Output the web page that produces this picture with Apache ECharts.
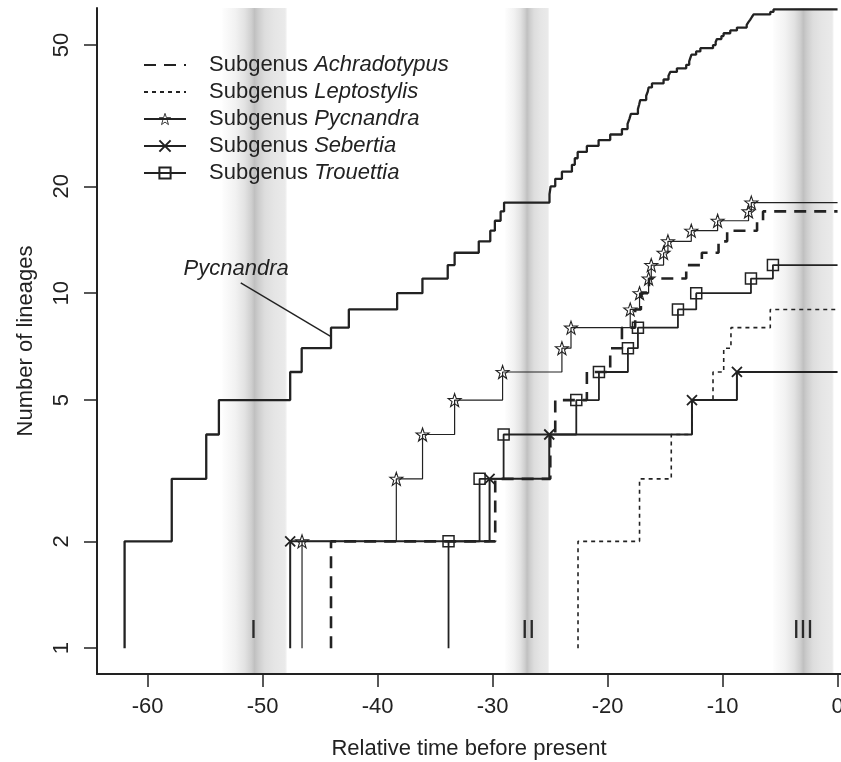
<!DOCTYPE html>
<html>
<head>
<meta charset="utf-8">
<script src="https://cdn.jsdelivr.net/npm/echarts@6/dist/echarts.min.js"></script>
<style>
html, body { margin: 0; padding: 0; background: #fff; }
#main { width: 841px; height: 762px; }
</style>
</head>
<body>
<div id="main"></div>
<script>
'use strict';
// ticks
var xTicks = [-60, -50, -40, -30, -20, -10, 0];
var yTicks = [1, 2, 5, 10, 20, 50];

// genus Pycnandra (branching times, lineages after each event)
var genusTimes = [-62.0, -57.9, -54.9, -53.8, -47.6, -46.6, -44.05, -42.5, -38.3, -36.1,
  -33.9, -33.3, -31.2, -30.2, -29.8, -29.3, -29.0, -25.05, -24.95, -24.55,
  -23.97, -23.1, -22.85, -22.6, -21.8, -20.78, -19.77, -18.75, -18.26, -18.1,
  -17.97, -17.36, -17.25, -17.16, -16.64, -16.5, -16.43, -16.14, -15.13, -14.7,
  -14.55, -13.97, -13.16, -12.9, -12.8, -12.7, -12.3, -11.93, -10.83, -10.6,
  -10.49, -10.1, -9.91, -9.33, -8.75, -7.9, -7.75, -7.59, -7.45, -7.3,
  -5.85, -5.57];
var genusCounts = [2, 3, 4, 5, 6, 7, 8, 9, 10, 11,
  12, 13, 14, 15, 16, 17, 18, 19, 20, 21,
  22, 23, 24, 25, 26, 27, 28, 29, 30, 31,
  32, 33, 34, 35, 36, 37, 38, 39, 40, 41,
  42, 43, 44, 45, 46, 47, 48, 49, 50, 51,
  52, 53, 54, 55, 56, 57, 58, 59, 60, 61,
  62, 63];

// subgenera
var achraTimes = [-44.05, -29.77, -24.98, -24.55, -21.8, -19.77, -18.75, -17.6, -17.1, -16.4, -13.16, -11.8, -10.35, -9.6, -7.0, -6.48];
var achraCounts = [2, 3, 4, 5, 6, 7, 8, 9, 10, 11, 12, 13, 14, 15, 16, 17];
var leptoTimes = [-22.57, -17.22, -14.46, -12.66, -10.83, -9.9, -9.27, -5.85];
var leptoCounts = [2, 3, 4, 5, 6, 7, 8, 9];
var pycnTimes = [-46.57, -38.37, -36.09, -33.3, -29.13, -23.97, -23.18, -18.03, -17.22, -16.43, -16.2, -15.13, -14.75, -12.72, -10.43, -7.74, -7.5];
var pycnCounts = [2, 3, 4, 5, 6, 7, 8, 9, 10, 11, 12, 13, 14, 15, 16, 17, 18];
var sebTimes = [-47.6, -30.26, -25.07, -12.66, -8.75];
var sebCounts = [2, 3, 4, 5, 6];
var trouTimes = [-33.83, -31.13, -29.04, -22.72, -20.75, -18.23, -17.36, -13.88, -12.29, -7.53, -5.62];
var trouCounts = [2, 3, 4, 5, 6, 7, 8, 9, 10, 11, 12];
var presentTime = 0;

// shaded periods
var bandStarts = [-53.5, -28.9, -5.6];
var bandEnds = [-47.9, -25.1, -0.35];
var bandCenters = [-50.8, -26.9, -3.0];
var bandNames = ['I', 'II', 'III'];
var bandLabelLevel = 1.12;

// annotation
var pointerTimes = [-51.9, -44.05];
var pointerCounts = [10.7, 7.55];
var annotText = 'Pycnandra';
var annotAt = [-52.3, 11.7];

var FONT = '"Liberation Sans", Arial, Helvetica, sans-serif';
var INK = '#222';
var CLEAR = 'rgba(255,255,255,0)';
var STAR = 'path://M50 0L61.8 33.8L97.6 34.5L69 56.2L79.4 90.5L50 70L20.6 90.5L31 56.2L2.4 34.5L38.2 33.8Z';
var CROSS = 'path://M0 0L10 10M10 0L0 10';

function lttData(times, counts) {
  var data = [{ value: [times[0], 1], symbol: 'none' }];
  for (var i = 0; i < times.length; i++) {
    data.push({ value: [times[i], counts[i]] });
  }
  data.push({ value: [presentTime, counts[counts.length - 1]], symbol: 'none' });
  return data;
}

function subSeries(name, times, counts, line, symbol, size, border) {
  return {
    name: name,
    type: 'line',
    step: 'end',
    z: 5,
    data: lttData(times, counts),
    symbol: symbol,
    symbolSize: size,
    showAllSymbol: true,
    lineStyle: line,
    itemStyle: { color: CLEAR, borderColor: INK, borderWidth: border },
    emphasis: { disabled: true }
  };
}

var bandGradient = {
  type: 'linear', x: 0, y: 0, x2: 1, y2: 0,
  colorStops: [
    { offset: 0, color: '#fdfdfd' },
    { offset: 0.2, color: '#f2f2f2' },
    { offset: 0.35, color: '#e2e2e2' },
    { offset: 0.45, color: '#cfcfcf' },
    { offset: 0.5, color: '#c0c0c0' },
    { offset: 0.56, color: '#cdcdcd' },
    { offset: 0.66, color: '#dddddd' },
    { offset: 0.8, color: '#e5e5e5' },
    { offset: 0.97, color: '#eaeaea' },
    { offset: 1, color: '#f4f4f4' }
  ]
};

var series = [];
bandStarts.forEach(function(s, i) {
  series.push({
    type: 'line',
    data: [],
    silent: true,
    z: i === bandStarts.length - 1 ? 4 : 1,
    markArea: {
      silent: true,
      itemStyle: { color: bandGradient },
      data: [[{ xAxis: s }, { xAxis: bandEnds[i] }]]
    }
  });
});

series.push({
  type: 'scatter',
  silent: true,
  z: 5,
  symbolSize: 0,
  itemStyle: { opacity: 1 },
  data: bandCenters.map(function(c, i) { return { value: [c, bandLabelLevel], name: bandNames[i] }; }),
  label: {
    show: true, position: 'inside', formatter: '{b}',
    fontFamily: FONT, fontSize: 25, color: '#2a2a2a'
  }
});

series.push({
  name: 'Pycnandra (genus)',
  type: 'line',
  step: 'end',
  z: 5,
  symbol: 'none',
  data: lttData(genusTimes, genusCounts),
  lineStyle: { color: INK, width: 2.3 },
  emphasis: { disabled: true }
});

series.push(subSeries('Achradotypus', achraTimes, achraCounts,
  { color: INK, width: 2.6, type: [12, 8] }, 'none', 0, 0));
series.push(subSeries('Leptostylis', leptoTimes, leptoCounts,
  { color: INK, width: 1.6, type: [4, 4] }, 'none', 0, 0));
series.push(subSeries('Pycnandra', pycnTimes, pycnCounts,
  { color: INK, width: 1.2 }, STAR, 13, 1.1));
series.push(subSeries('Sebertia', sebTimes, sebCounts,
  { color: INK, width: 2 }, CROSS, 10, 1.8));
series.push(subSeries('Trouettia', trouTimes, trouCounts,
  { color: INK, width: 1.8 }, 'rect', 11, 1.5));

// pointer to the genus curve
series.push({
  type: 'line',
  z: 5,
  silent: true,
  symbol: 'none',
  data: pointerTimes.map(function(t, i) { return [t, pointerCounts[i]]; }),
  lineStyle: { color: INK, width: 1.4 }
});
series.push({
  type: 'scatter',
  z: 5,
  silent: true,
  symbolSize: 0,
  itemStyle: { opacity: 1 },
  data: [{ value: annotAt, name: annotText }],
  label: {
    show: true, position: 'inside', formatter: '{b}',
    fontFamily: FONT, fontSize: 22, fontStyle: 'italic', color: INK
  }
});

var legendNames = ['Achradotypus', 'Leptostylis', 'Pycnandra', 'Sebertia', 'Trouettia'];

var option = {
  animation: false,
  backgroundColor: '#fff',
  textStyle: { fontFamily: FONT },
  grid: { left: 97, right: 0, top: 8, bottom: 88, outerBoundsMode: 'none', containLabel: false },
  legend: {
    data: legendNames.map(function(n) {
      // the star needs an explicit hollow style in the legend
      if (n === 'Pycnandra') {
        return { name: n, itemStyle: { color: CLEAR, borderColor: INK, borderWidth: 0.9 } };
      }
      return { name: n, itemStyle: { color: CLEAR } };
    }),
    orient: 'vertical',
    left: 143,
    top: 54,
    padding: 0,
    itemGap: 5,
    itemWidth: 42,
    itemHeight: 14,
    selectedMode: false,
    formatter: function(name) { return '{n|Subgenus }{i|' + name + '}'; },
    textStyle: {
      padding: [0, 0, 0, 18],
      rich: {
        n: { fontFamily: FONT, fontSize: 22, color: INK },
        i: { fontFamily: FONT, fontSize: 22, color: INK, fontStyle: 'italic' }
      }
    }
  },
  xAxis: {
    type: 'value',
    min: -64.4,
    max: 0.3,
    z: 3,
    name: 'Relative time before present',
    nameLocation: 'middle',
    nameGap: 64,
    nameTextStyle: { fontFamily: FONT, fontSize: 22, color: INK },
    axisLine: { onZero: false, lineStyle: { color: INK, width: 2 } },
    axisTick: { customValues: xTicks, length: 13, lineStyle: { color: INK, width: 1.5 } },
    axisLabel: { customValues: xTicks, margin: 22, fontFamily: FONT, fontSize: 22, color: INK },
    splitLine: { show: false }
  },
  yAxis: {
    type: 'log',
    logBase: 10,
    min: 0.846,
    max: 63.6,
    z: 3,
    name: 'Number of lineages',
    nameLocation: 'middle',
    nameGap: 60,
    nameTextStyle: { fontFamily: FONT, fontSize: 22, color: INK },
    axisLine: { show: true, onZero: false, lineStyle: { color: INK, width: 2 } },
    axisTick: { show: true, customValues: yTicks, length: 13, lineStyle: { color: INK, width: 1.5 } },
    axisLabel: {
      customValues: yTicks, rotate: 90, margin: 24,
      fontFamily: FONT, fontSize: 22, color: INK,
      formatter: function(v) { return String(Math.round(v)); }
    },
    splitLine: { show: false }
  },
  series: series
};

var chart = echarts.init(document.getElementById('main'), null, { renderer: 'canvas' });
chart.setOption(option);
</script>
</body>
</html>
